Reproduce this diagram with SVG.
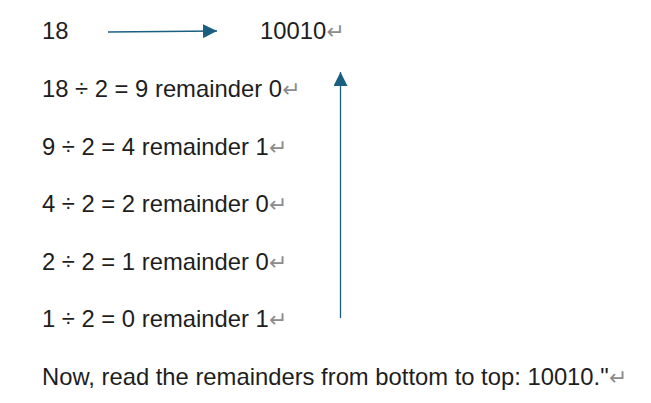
<svg xmlns="http://www.w3.org/2000/svg" width="651" height="403" viewBox="0 0 651 403">
<style>
.t{font-family:"Liberation Sans",Arial,sans-serif;font-size:23.8px;fill:#1e1e1e}
.pm{fill:#8c8c8c;font-family:"DejaVu Sans",sans-serif;font-size:22px}
.ln{stroke:#1b5f80;stroke-width:1.3;fill:none}
</style>
<defs>
<marker id="ah2" viewBox="0 0 14 14" refX="14" refY="7" markerWidth="14" markerHeight="14" markerUnits="userSpaceOnUse" orient="auto">
<path d="M0,0 L14,7 L0,14 Z" fill="#1b5f80"/>
</marker>
</defs>
<rect width="651" height="403" fill="#fff"/>
<g id="n-18"><text class="t" x="42" y="39">18</text></g>
<g id="n-result"><text class="t" x="260" y="39">10010<tspan class="pm">↵</tspan></text></g>
<g id="n-step1"><text class="t" x="42" y="97">18 ÷ 2 = 9 remainder 0<tspan class="pm">↵</tspan></text></g>
<g id="n-step2"><text class="t" x="42" y="155">9 ÷ 2 = 4 remainder 1<tspan class="pm">↵</tspan></text></g>
<g id="n-step3"><text class="t" x="42" y="212">4 ÷ 2 = 2 remainder 0<tspan class="pm">↵</tspan></text></g>
<g id="n-step4"><text class="t" x="42" y="270">2 ÷ 2 = 1 remainder 0<tspan class="pm">↵</tspan></text></g>
<g id="n-step5"><text class="t" x="42" y="327">1 ÷ 2 = 0 remainder 1<tspan class="pm">↵</tspan></text></g>
<g id="n-summary"><text class="t" x="42" y="385">Now, read the remainders from bottom to top: 10010."<tspan class="pm">↵</tspan></text></g>
<g id="connectors">
<line class="ln" x1="108" y1="32" x2="217" y2="31" marker-end="url(#ah2)"/>
<line class="ln" x1="340.5" y1="318" x2="340.5" y2="72" marker-end="url(#ah2)"/>
</g>
</svg>
